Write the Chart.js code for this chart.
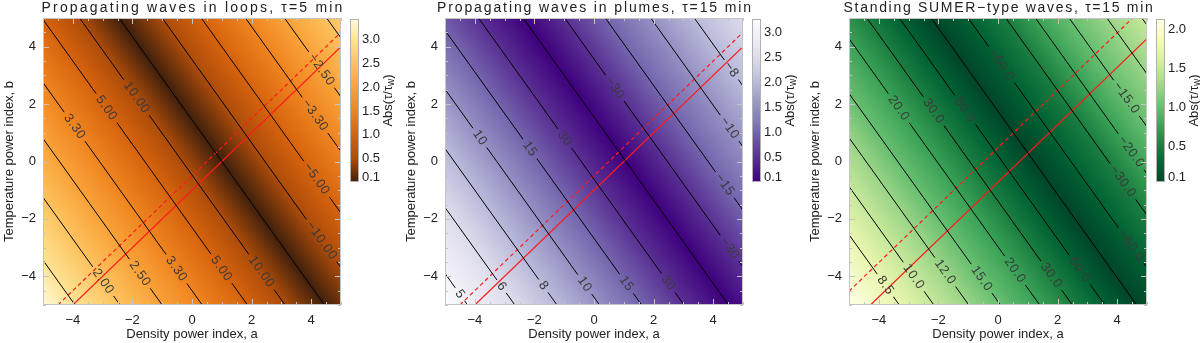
<!DOCTYPE html>
<html>
<head>
<meta charset="utf-8">
<script src="https://cdn.jsdelivr.net/npm/chart.js@4.4.1/dist/chart.umd.min.js"></script>
<style>
  html, body { margin: 0; padding: 0; background: #fff; }
  #wrap { position: relative; width: 1200px; height: 343px; overflow: hidden; }
  #wrap canvas { position: absolute; top: 0; }
</style>
</head>
<body>
<div id="wrap"></div>
<script>
// ---- data ----
const xTicks = [-4, -2, 0, 2, 4];
const yTicks = [-4, -2, 0, 2, 4];

// contours: b where each line crosses a = 0, its colour-bar value, its label, and where (a) the labels sit
const loopsB0 = [-10.69, -8.5, -6.45, -4.5, -2.3, -0.47, 1.45, 3.55, 5.45, 7.6, 9.5, 11.55];
const loopsLevel = [3.0, 2.5, 2.0, 1.5, 1.0, 0.5, 0, 0.5, 1.0, 1.5, 2.0, 2.5];
const loopsText = ['', '2.00', '2.50', '3.30', '5.00', '10.00', '', '−10.00', '−5.00', '−3.30', '−2.50', ''];
const loopsLabelA = [[], [-2.98], [-1.75], [-3.94, -0.52], [-2.87, 0.99], [-1.86, 2.33], [], [4.35], [4.18], [4.13], [4.35], []];
const loopsCornerV = [3.4, 2.65];
const loopsRedSolid = [[-4, -5], [5, 4]];
const loopsRedDashed = [[-4.5, -5], [5, 4.5]];
const loopsCbRange = [0.0, 3.44];
const loopsCbTicks = [0.1, 0.5, 1.0, 1.5, 2.0, 2.5, 3.0];

const plumesB0 = [-11.15, -8.85, -6.8, -4.73, -2.68, -0.62, 1.55, 3.57, 5.55, 7.76, 9.88, 12.2];
const plumesLevel = [3.0, 2.5, 2.0, 1.5, 1.0, 0.5, 0, 0.5, 1.0, 1.5, 2.0, 2.5];
const plumesText = ['5', '6', '8', '10', '15', '30', '', '−30', '−15', '−10', '−8', ''];
const plumesLabelA = [[-4.5], [-3.1], [-1.7], [-3.83, -0.31], [-2.15, 1.09], [-0.98, 2.49], [], [0.7, 4.55], [4.39], [4.55], [4.61], []];
const plumesCornerV = [3.27, 2.55];
const plumesRedSolid = [[-4, -5], [5, 4]];
const plumesRedDashed = [[-4.5, -5], [5, 4.5]];
const plumesCbRange = [0.0, 3.27];
const plumesCbTicks = [0.1, 0.5, 1.0, 1.5, 2.0, 2.5, 3.0];

const sumerB0 = [-9.8, -8.12, -6.42, -4.88, -2.97, -1.38, 0.2, 1.75, 3.55, 5.38, 6.82, 8.46, 10.3, 12.0];
const sumerLevel = [1.75, 1.5, 1.25, 1.0, 0.75, 0.5, 0.25, 0, 0.25, 0.5, 0.75, 1.0, 1.25, 1.5];
const sumerText = ['8.5', '10.0', '12.0', '15.0', '20.0', '30.0', '60.0', '', '−60.0', '−30.0', '−20.0', '−15.0', '', ''];
const sumerLabelA = [[-3.78], [-2.83], [-1.77], [-0.55], [-3.33, 0.57], [-2.16, 1.79], [-1.1, 2.74], [], [0.12, 4.47], [4.19], [4.47], [4.31], [], []];
const sumerCornerV = [2.13, 1.55];
const sumerRedSolid = [[-4.28, -5], [5, 4.28]];
const sumerRedDashed = [[-5, -4.52], [4.52, 5]];
const sumerCbRange = [0.04, 2.13];
const sumerCbTicks = [0.1, 0.5, 1.0, 1.5, 2.0];

// colour tables [value, colour]
const loopsCmap = [[0, '#40200c'], [0.5, '#ad4c0a'], [1.0, '#d6630d'], [1.5, '#ef841f'], [2.0, '#f9a238'],
  [2.5, '#fdc25e'], [3.0, '#fee394'], [3.44, '#fffbe0']];
const plumesCmap = [[0, '#3f007d'], [0.41, '#54278f'], [0.82, '#6a51a3'], [1.23, '#807dba'], [1.64, '#9e9ac8'],
  [2.04, '#bcbddc'], [2.45, '#dadaeb'], [2.86, '#efedf5'], [3.27, '#fcfbfd']];
const sumerCmap = [[0.04, '#004529'], [0.3, '#006837'], [0.56, '#238443'], [0.82, '#41ab5d'], [1.08, '#78c679'],
  [1.35, '#addd8e'], [1.61, '#d9f0a3'], [1.87, '#f7fcb9'], [2.13, '#ffffe5']];

const FONT = '"Liberation Sans", Arial, sans-serif';
const INK = '#222';
const PLOT_W = 298, PLOT_H = 287;

const panels = [
  { left: 0, title: 'Propagating waves in loops, τ=5 min', titleW: 303, slope: 1.45, b0: loopsB0, level: loopsLevel,
    text: loopsText, labelA: loopsLabelA, cornerV: loopsCornerV, solid: loopsRedSolid, dashed: loopsRedDashed,
    cmap: loopsCmap, cbRange: loopsCbRange, cbTicks: loopsCbTicks },
  { left: 402, title: 'Propagating waves in plumes, τ=15 min', titleW: 316, slope: 1.45, b0: plumesB0, level: plumesLevel,
    text: plumesText, labelA: plumesLabelA, cornerV: plumesCornerV, solid: plumesRedSolid, dashed: plumesRedDashed,
    cmap: plumesCmap, cbRange: plumesCbRange, cbTicks: plumesCbTicks },
  { left: 806, title: 'Standing SUMER−type waves, τ=15 min', titleW: 311, slope: 1.45, b0: sumerB0, level: sumerLevel,
    text: sumerText, labelA: sumerLabelA, cornerV: sumerCornerV, solid: sumerRedSolid, dashed: sumerRedDashed,
    cmap: sumerCmap, cbRange: sumerCbRange, cbTicks: sumerCbTicks }
];

function hexRgb(c) {
  return [1, 3, 5].map(i => parseInt(c.slice(i, i + 2), 16));
}
function cmapColor(stops, v) {
  if (v <= stops[0][0]) return stops[0][1];
  for (let i = 1; i < stops.length; i++) {
    if (v <= stops[i][0]) {
      const t = (v - stops[i - 1][0]) / (stops[i][0] - stops[i - 1][0]);
      const a = hexRgb(stops[i - 1][1]), b = hexRgb(stops[i][1]);
      return 'rgb(' + a.map((x, k) => Math.round(x + (b[k] - x) * t)).join(',') + ')';
    }
  }
  return stops[stops.length - 1][1];
}

const LABEL_FONT = '13px ' + FONT;
const LABEL_SPACING = '0.6px';
const meas = document.createElement('canvas').getContext('2d');
meas.font = LABEL_FONT;
meas.letterSpacing = LABEL_SPACING;

function fmtTick(v) {
  return v < 0 ? '−' + Math.abs(v) : String(v);
}

// line points for one contour, with a gap where each label sits
function contourData(p, i) {
  const s = p.slope, b0 = p.b0[i];
  const aLo = Math.max(-5, (b0 - 5) / s), aHi = Math.min(5, (b0 + 5) / s);
  const along = Math.hypot(PLOT_W / 10, s * PLOT_H / 10);
  const half = (meas.measureText(p.text[i]).width / 2 + 4) / along;
  const pts = [{ x: aLo, y: b0 - s * aLo }];
  p.labelA[i].slice().sort((u, v) => u - v).forEach(a => {
    pts.push({ x: a - half, y: b0 - s * (a - half) }, { x: a, y: null }, { x: a + half, y: b0 - s * (a + half) });
  });
  pts.push({ x: aHi, y: b0 - s * aHi });
  return pts;
}

function panelPlugin(p) {
  return {
    id: 'panel',
    beforeDatasetsDraw(chart) {
      const { ctx, chartArea: ca, scales: { x, y } } = chart;
      const s = p.slope;
      const px = (a, b) => [x.getPixelForValue(a), y.getPixelForValue(b)];
      const o = px(0, 0), q = px(1, -s);
      let dx = q[0] - o[0], dy = q[1] - o[1];
      const L = Math.hypot(dx, dy);
      dx /= L; dy /= L;
      const nx = dy, ny = -dx;
      const proj = pt => (pt[0] - o[0]) * nx + (pt[1] - o[1]) * ny;
      const t0 = proj(px(x.min, y.min)), t1 = proj(px(x.max, y.max));
      const g = ctx.createLinearGradient(o[0] + nx * t0, o[1] + ny * t0, o[0] + nx * t1, o[1] + ny * t1);
      g.addColorStop(0, cmapColor(p.cmap, p.cornerV[0]));
      p.b0.forEach((b0, i) => {
        const f = (proj(px(0, b0)) - t0) / (t1 - t0);
        if (f > 0 && f < 1) g.addColorStop(f, cmapColor(p.cmap, p.level[i]));
      });
      g.addColorStop(1, cmapColor(p.cmap, p.cornerV[1]));
      ctx.save();
      ctx.fillStyle = g;
      ctx.fillRect(ca.left, ca.top, ca.right - ca.left, ca.bottom - ca.top);
      ctx.restore();
    },
    afterDatasetsDraw(chart) {
      const { ctx, chartArea: ca, scales: { x, y } } = chart;
      const s = p.slope;
      // contour labels
      const ang = Math.atan2(y.getPixelForValue(-s) - y.getPixelForValue(0), x.getPixelForValue(1) - x.getPixelForValue(0));
      ctx.save();
      ctx.font = LABEL_FONT;
      ctx.letterSpacing = LABEL_SPACING;
      ctx.fillStyle = '#3a3a3a';
      ctx.textAlign = 'center';
      ctx.textBaseline = 'middle';
      p.labelA.forEach((list, i) => {
        list.forEach(a => {
          ctx.save();
          ctx.translate(x.getPixelForValue(a), y.getPixelForValue(p.b0[i] - s * a));
          ctx.rotate(ang);
          ctx.fillText(p.text[i], 0, 0);
          ctx.restore();
        });
      });
      ctx.letterSpacing = '0px';
      ctx.restore();
      // frame and inward ticks
      ctx.save();
      ctx.strokeStyle = '#c4c4c4';
      ctx.lineWidth = 1;
      ctx.beginPath();
      for (let v = x.min; v <= x.max + 1e-9; v += 0.5) {
        const len = xTicks.includes(v) ? 6 : 3;
        const X = Math.round(x.getPixelForValue(v)) + 0.5;
        ctx.moveTo(X, ca.bottom); ctx.lineTo(X, ca.bottom - len);
        ctx.moveTo(X, ca.top); ctx.lineTo(X, ca.top + len);
      }
      for (let v = y.min; v <= y.max + 1e-9; v += 0.5) {
        const len = yTicks.includes(v) ? 6 : 3;
        const Y = Math.round(y.getPixelForValue(v)) + 0.5;
        ctx.moveTo(ca.left, Y); ctx.lineTo(ca.left + len, Y);
        ctx.moveTo(ca.right, Y); ctx.lineTo(ca.right - len, Y);
      }
      ctx.stroke();
      ctx.strokeRect(Math.round(ca.left) + 0.5, Math.round(ca.top) + 0.5,
        Math.round(ca.right - ca.left) - 1, Math.round(ca.bottom - ca.top) - 1);
      ctx.restore();
    },
    afterDraw(chart) {
      const { ctx, chartArea: ca } = chart;
      ctx.save();
      ctx.font = '14px ' + FONT;
      // spread the letters so the title spans the same width as in the figure
      const n = [...p.title].length;
      const plain = ctx.measureText(p.title).width;
      ctx.letterSpacing = Math.max(0, (p.titleW - plain) / n).toFixed(2) + 'px';
      ctx.fillStyle = INK;
      ctx.textAlign = 'center';
      ctx.textBaseline = 'middle';
      ctx.fillText(p.title, (ca.left + ca.right) / 2 + 1, 8);
      ctx.letterSpacing = '0px';
      ctx.restore();
    }
  };
}

function colorbarPlugin(p) {
  return {
    id: 'cbar',
    beforeDatasetsDraw(chart) {
      const { ctx, chartArea: ca, scales: { y } } = chart;
      const yb = y.getPixelForValue(y.min), yt = y.getPixelForValue(y.max);
      const g = ctx.createLinearGradient(0, yb, 0, yt);
      p.cmap.forEach(([v, c]) => {
        const f = (y.getPixelForValue(v) - yb) / (yt - yb);
        g.addColorStop(Math.min(1, Math.max(0, f)), c);
      });
      ctx.save();
      ctx.fillStyle = g;
      ctx.fillRect(ca.left, ca.top, ca.right - ca.left, ca.bottom - ca.top);
      ctx.strokeStyle = '#b0b0b0';
      ctx.lineWidth = 1;
      ctx.strokeRect(Math.round(ca.left) + 0.5, Math.round(ca.top) + 0.5,
        Math.round(ca.right - ca.left) - 1, Math.round(ca.bottom - ca.top) - 1);
      // title Abs(τ/τ_w), reading upwards
      ctx.translate(ca.right + 29, (ca.top + ca.bottom) / 2);
      ctx.rotate(-Math.PI / 2);
      ctx.fillStyle = INK;
      ctx.textBaseline = 'middle';
      const big = '13px ' + FONT, small = '10px ' + FONT;
      ctx.font = big;
      const w1 = ctx.measureText('Abs(τ/τ').width, w3 = ctx.measureText(')').width;
      ctx.font = small;
      const w2 = ctx.measureText('w').width;
      let cx = -(w1 + w2 + w3) / 2;
      ctx.font = big;
      ctx.fillText('Abs(τ/τ', cx, 0);
      cx += w1;
      ctx.font = small;
      ctx.fillText('w', cx, 3);
      cx += w2;
      ctx.font = big;
      ctx.fillText(')', cx, 0);
      ctx.restore();
    }
  };
}

const wrap = document.getElementById('wrap');
function addCanvas(left, width) {
  const c = document.createElement('canvas');
  c.width = width;
  c.height = 343;
  c.style.left = left + 'px';
  wrap.appendChild(c);
  return c;
}

const tickFont = { family: FONT, size: 13 };

panels.forEach(p => {
  const datasets = p.b0.map((b0, i) => ({
    data: contourData(p, i),
    showLine: true, pointRadius: 0, borderColor: '#000', borderWidth: 1, spanGaps: false
  }));
  datasets.push({
    data: p.dashed.map(([a, b]) => ({ x: a, y: b })),
    showLine: true, pointRadius: 0, borderColor: '#ff1a1a', borderWidth: 1.2, borderDash: [4, 3]
  });
  datasets.push({
    data: p.solid.map(([a, b]) => ({ x: a, y: b })),
    showLine: true, pointRadius: 0, borderColor: '#ff1a1a', borderWidth: 1.2
  });

  new Chart(addCanvas(p.left, 364), {
    type: 'scatter',
    data: { datasets },
    plugins: [panelPlugin(p)],
    options: {
      responsive: false,
      animation: false,
      events: [],
      layout: { padding: { top: 18, right: 23, left: 0, bottom: 0 } },
      plugins: { legend: { display: false }, tooltip: { enabled: false } },
      scales: {
        x: {
          type: 'linear', min: -5, max: 5,
          afterBuildTicks: sc => { sc.ticks = xTicks.map(v => ({ value: v })); },
          afterFit: sc => { sc.height = 38; },
          grid: { display: false, drawTicks: false },
          border: { display: false },
          ticks: { font: tickFont, color: INK, padding: 8, maxRotation: 0, autoSkip: false, callback: fmtTick },
          title: { display: true, text: 'Density power index, a', font: tickFont, color: INK, padding: { top: 0, bottom: 1 } }
        },
        y: {
          type: 'linear', min: -5, max: 5,
          afterBuildTicks: sc => { sc.ticks = yTicks.map(v => ({ value: v })); },
          afterFit: sc => { sc.width = 43; },
          grid: { display: false, drawTicks: false },
          border: { display: false },
          ticks: { font: tickFont, color: INK, padding: 7, autoSkip: false, callback: fmtTick },
          title: { display: true, text: 'Temperature power index, b', font: tickFont, color: INK, padding: { top: 2, bottom: 0 } }
        }
      }
    }
  });

  new Chart(addCanvas(p.left + 345, 57), {
    type: 'scatter',
    data: { datasets: [] },
    plugins: [colorbarPlugin(p)],
    options: {
      responsive: false,
      animation: false,
      events: [],
      layout: { padding: { top: 19, right: 0, left: 5, bottom: 161 } },
      plugins: { legend: { display: false }, tooltip: { enabled: false } },
      scales: {
        x: { display: false, min: 0, max: 1 },
        y: {
          position: 'right', min: p.cbRange[0], max: p.cbRange[1],
          afterBuildTicks: sc => { sc.ticks = p.cbTicks.map(v => ({ value: v })); },
          afterFit: sc => { sc.width = 43; },
          grid: { display: false, drawTicks: false },
          border: { display: false },
          ticks: { font: tickFont, color: INK, padding: 3, autoSkip: false, callback: v => v.toFixed(1) }
        }
      }
    }
  });
});
</script>
</body>
</html>
